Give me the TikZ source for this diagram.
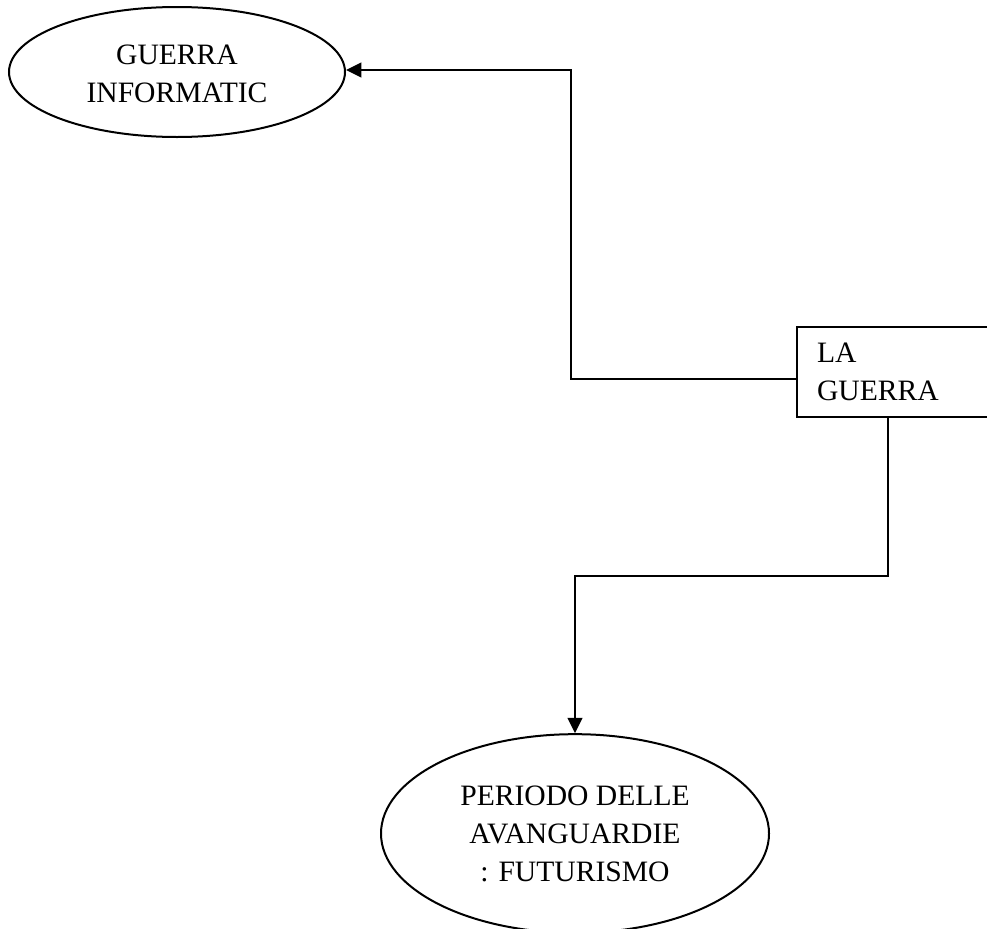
\documentclass[tikz,border=0pt]{standalone}
\usepackage{fontspec}
\setmainfont{Liberation Serif}
\usetikzlibrary{shapes.geometric,arrows.meta}

\tikzset{
  every node/.style={font=\fontsize{22.2}{28.5}\selectfont, align=center, inner sep=0pt},
  oval/.style={draw, ellipse, line width=1.5pt},
  box/.style={draw, rectangle, line width=1.5pt, align=left, anchor=north west,
              minimum height=67.5pt, text width=150pt, inner xsep=15pt},
  conn/.style={line width=1.5pt, -{Triangle[length=11.5pt,width=11pt]}}
}

\begin{document}
\begin{tikzpicture}[x=0.75pt, y=-0.75pt]
  % page frame: pixel grid, origin top left
  \clip (0,0) rectangle (987,928);
  \fill[white] (0,0) rectangle (987,928);

  % nodes
  \node[oval, minimum width=252pt, minimum height=97.5pt] (gi) at (177,72)
       {\raisebox{-3pt}[\height][\depth]{\begin{tabular}{@{}c@{}}GUERRA\\INFORMATIC\end{tabular}}};
  \node[box] (lag) at (796,326) {LA\\GUERRA};
  \node[oval, minimum width=291pt, minimum height=149pt] (pd) at (575,833.5)
       {PERIODO DELLE\\AVANGUARDIE\\: FUTURISMO};

  % elbow points of the connectors
  \coordinate (b1) at (571,70);
  \coordinate (b2) at (888,576);

  % connectors
  \draw[conn] ([yshift=-5.25pt]lag.west) -| (b1) -- (gi.east |- b1);
  \draw[conn] (b2 |- lag.south) -- (b2) -| (pd.north);
\end{tikzpicture}
\end{document}
